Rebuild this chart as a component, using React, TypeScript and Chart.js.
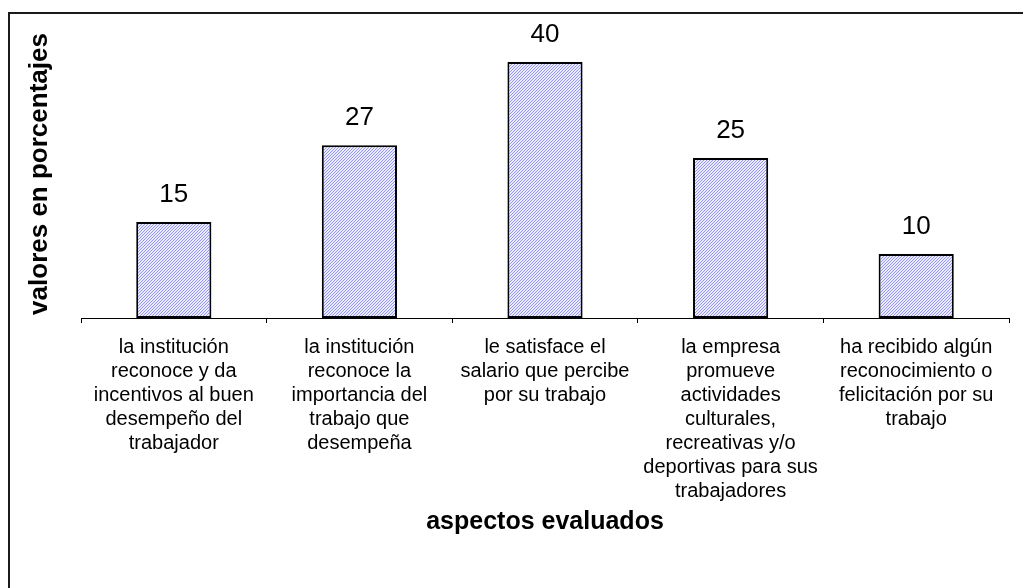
import React, { useEffect, useRef } from "react";
import { Chart, registerables, Plugin } from "chart.js";

Chart.register(...registerables);

const categories: string[][] = [
  ["la institución", "reconoce y da", "incentivos al buen", "desempeño del", "trabajador"],
  ["la institución", "reconoce la", "importancia del", "trabajo que", "desempeña"],
  ["le satisface el", "salario que percibe", "por su trabajo"],
  ["la empresa", "promueve", "actividades", "culturales,", "recreativas y/o", "deportivas para sus", "trabajadores"],
  ["ha recibido algún", "reconocimiento o", "felicitación por su", "trabajo"],
];

const percentages: number[] = [15, 27, 40, 25, 10];

const yAxisTitle = "valores en porcentajes";
const xAxisTitle = "aspectos evaluados";

const FONT = "'Liberation Sans', Arial, sans-serif";

// Fine light-blue diagonal hatch fill used inside the bars
function makeHatch(): CanvasPattern | string {
  const tile = document.createElement("canvas");
  tile.width = 3;
  tile.height = 3;
  const c = tile.getContext("2d");
  if (!c) return "#cfcff8";
  c.fillStyle = "#ececff";
  c.fillRect(0, 0, 3, 3);
  c.fillStyle = "#9494ff";
  for (let i = 0; i < 3; i++) {
    c.fillRect(i, 2 - i, 1, 1);
  }
  const p = c.createPattern(tile, "repeat");
  return p || "#cfcff8";
}

// White page with the frame around the chart
const framePlugin: Plugin = {
  id: "frame",
  beforeDraw(chart) {
    const ctx = chart.ctx;
    ctx.save();
    ctx.fillStyle = "#ffffff";
    ctx.fillRect(0, 0, chart.width, chart.height);
    ctx.strokeStyle = "#1a1a1a";
    ctx.lineWidth = 2;
    ctx.strokeRect(9, 13, chart.width + 20, chart.height + 20);
    ctx.restore();
  },
};

// Value written above each bar
const valueLabels: Plugin = {
  id: "valueLabels",
  afterDatasetsDraw(chart) {
    const ctx = chart.ctx;
    const meta = chart.getDatasetMeta(0);
    const data = chart.data.datasets[0].data as number[];
    ctx.save();
    ctx.font = `26px ${FONT}`;
    ctx.fillStyle = "#000000";
    ctx.textAlign = "center";
    ctx.textBaseline = "middle";
    meta.data.forEach((el: any, i: number) => {
      ctx.fillText(String(data[i]), el.x, el.y - 27);
    });
    ctx.restore();
  },
};

export default function App() {
  const ref = useRef<HTMLCanvasElement | null>(null);

  useEffect(() => {
    if (!ref.current) return;
    const chart = new Chart(ref.current, {
      type: "bar",
      data: {
        labels: categories,
        datasets: [
          {
            data: percentages,
            backgroundColor: makeHatch() as any,
            borderColor: "#000000",
            borderWidth: 2,
            borderSkipped: false,
            categoryPercentage: 1,
            barPercentage: 0.405,
          },
        ],
      },
      options: {
        responsive: false,
        animation: false,
        events: [],
        layout: { padding: { top: 30, right: 14, bottom: 0, left: 0 } },
        plugins: {
          legend: { display: false },
          tooltip: { enabled: false },
        },
        scales: {
          x: {
            grid: {
              display: true,
              drawOnChartArea: false,
              drawTicks: true,
              tickLength: 5,
              offset: true,
              color: "#000000",
              lineWidth: 1,
            },
            border: { display: true, color: "#000000", width: 1 },
            ticks: {
              autoSkip: false,
              maxRotation: 0,
              minRotation: 0,
              padding: 12,
              color: "#000000",
              font: { family: FONT, size: 20, lineHeight: 1.2 },
            },
            title: {
              display: true,
              text: xAxisTitle,
              color: "#000000",
              font: { family: FONT, size: 25, weight: "bold", lineHeight: 1.2 },
              padding: { top: 0, bottom: 51 },
            },
            afterFit(scale: any) {
              scale.height = 270;
            },
          },
          y: {
            min: 0,
            max: 45,
            grid: { display: false },
            border: { display: false },
            ticks: { display: false },
            title: {
              display: true,
              text: yAxisTitle,
              color: "#000000",
              font: { family: FONT, size: 26, weight: "bold", lineHeight: 1.2 },
              padding: { top: 24, bottom: 0 },
            },
            afterFit(scale: any) {
              scale.width = 81;
            },
          },
        },
      },
      plugins: [framePlugin, valueLabels],
    });
    return () => chart.destroy();
  }, []);

  return (
    <div style={{ position: "absolute", left: 0, top: 0, width: 1023, height: 588 }}>
      <canvas ref={ref} width={1023} height={588} />
    </div>
  );
}
